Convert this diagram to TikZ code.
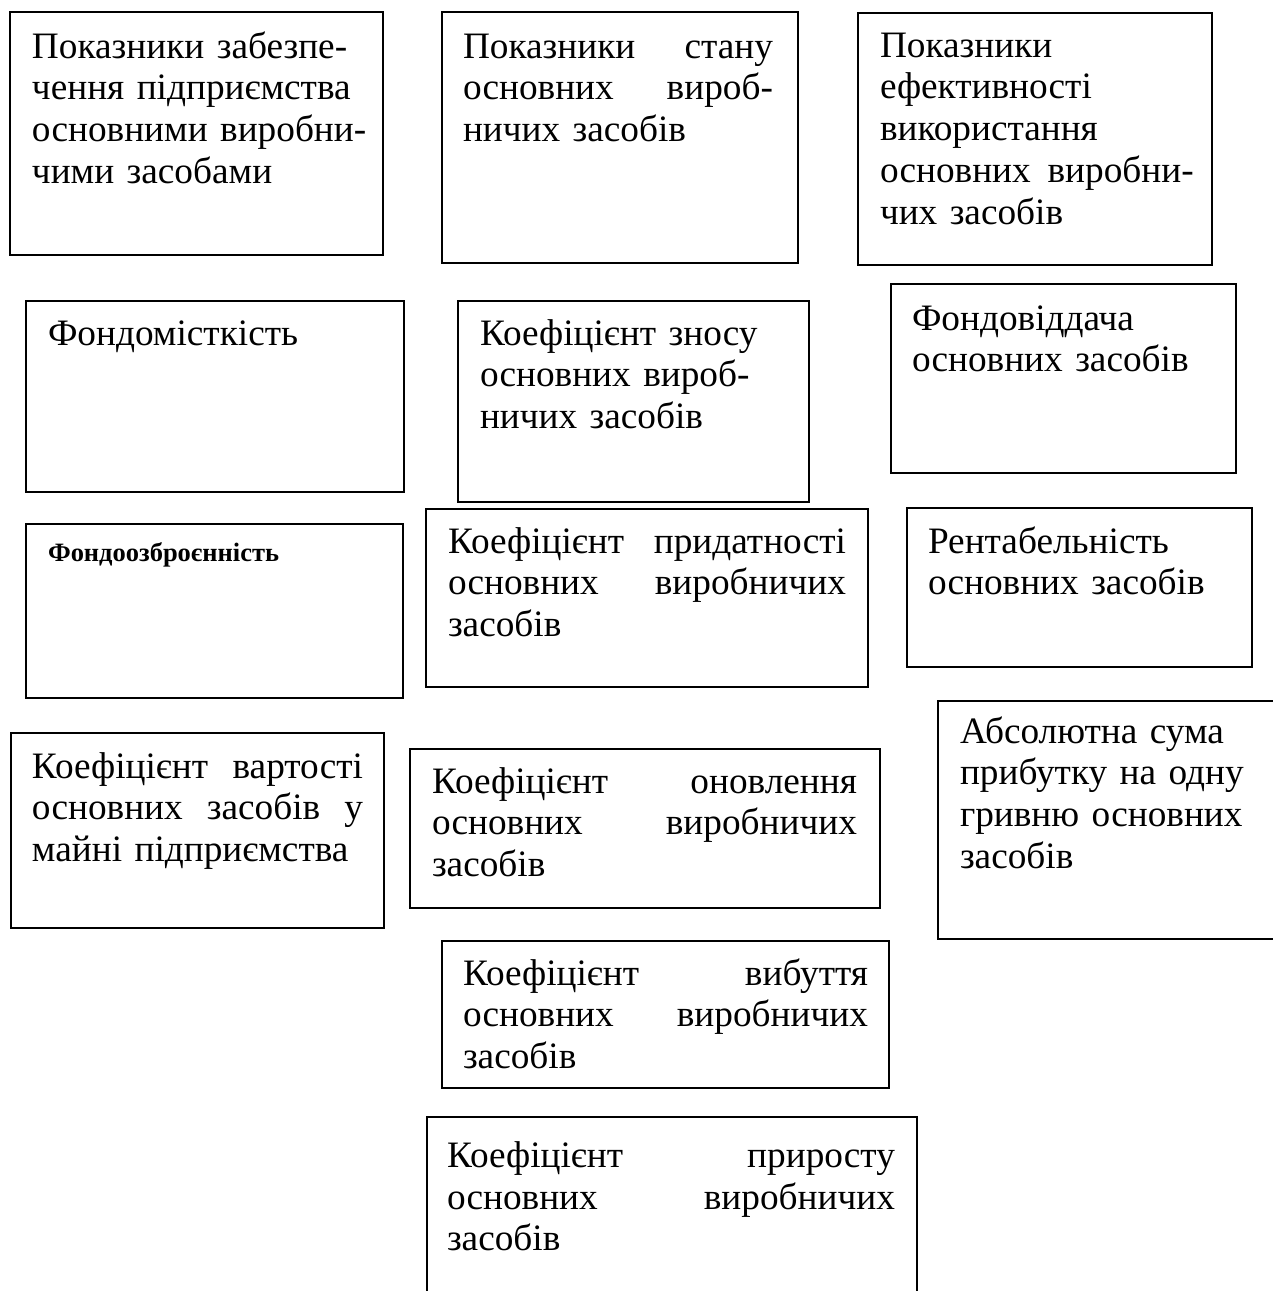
\documentclass[tikz,border=0pt]{standalone}
\usepackage{fontspec}
\setmainfont{Liberation Serif}
\begin{document}
\begin{tikzpicture}[x=0.3889pt,y=-0.3889pt,
  box/.style={draw=black,line width=0.65pt,rectangle,anchor=north west,inner sep=0pt,outer sep=0pt},
  txt/.style={anchor=north west,inner sep=0pt,outer sep=0pt,align=left,font=\fontsize{14.5}{16.33}\selectfont},
  btxt/.style={anchor=north west,inner sep=0pt,outer sep=0pt,align=left,font=\fontsize{10.3}{12}\selectfont\bfseries}]
\useasboundingbox (0,0) rectangle (1273,1291);
\clip (0,0) rectangle (1273,1291);
% boxes
\node[box,minimum width=145.06pt,minimum height=94.50pt] (b1) at (10,12) {};
\node[box,minimum width=138.45pt,minimum height=97.61pt] (b2) at (442,12) {};
\node[box,minimum width=137.67pt,minimum height=98.00pt] (b3) at (858,13) {};
\node[box,minimum width=147.00pt,minimum height=74.28pt] (b4) at (26,301) {};
\node[box,minimum width=136.50pt,minimum height=78.17pt] (b5) at (458,301) {};
\node[box,minimum width=134.17pt,minimum height=73.50pt] (b6) at (891,284) {};
\node[box,minimum width=146.62pt,minimum height=67.67pt] (b7) at (26,524) {};
\node[box,minimum width=171.89pt,minimum height=69.22pt] (b8) at (426,509) {};
\node[box,minimum width=134.17pt,minimum height=61.84pt] (b9) at (907,508) {};
\node[box,minimum width=145.06pt,minimum height=75.84pt] (b10) at (11,733) {};
\node[box,minimum width=182.78pt,minimum height=61.84pt] (b11) at (410,749) {};
\node[box,minimum width=140.78pt,minimum height=92.56pt] (b12) at (938,701) {};
\node[box,minimum width=173.84pt,minimum height=57.17pt] (b13) at (442,941) {};
\node[box,minimum width=190.56pt,minimum height=78.95pt] (b14) at (427,1117) {};
% texts
\node[txt,text width=132pt] (t1) at (32,28.6) {\strut Показники забезпе-\\чення підприємства\\основними виробни-\\чими засобами};
\node[txt,text width=120.56pt] (t2) at (463,28.6) {\strut Показники~\hfill стану\\основних~\hfill вироб-\\ничих засобів};
\node[txt,text width=128pt] (t3) at (880,27.6) {\strut Показники\\ефективності\\використання\\\mbox{основних\hspace{0.45em}виробни-}\\чих засобів};
\node[txt,text width=125pt] (t4) at (48,315.6) {\strut Фондомісткість};
\node[txt,text width=125pt] (t5) at (480,315.6) {\strut Коефіцієнт зносу\\основних вироб-\\ничих засобів};
\node[txt,text width=120pt] (t6) at (912,300.6) {\strut Фондовіддача\\основних засобів};
\node[btxt,text width=125pt] (t7) at (48,539.4) {\strut Фондоозброєнність};
\node[txt,text width=154.78pt] (t8) at (448,523.6) {\strut Коефіцієнт~\hfill придатності\\основних~\hfill виробничих\\засобів};
\node[txt,text width=120pt] (t9) at (928,523.6) {\strut Рентабельність\\основних засобів};
\node[txt,text width=128.72pt] (t10) at (32,748.6) {\strut Коефіцієнт~\hfill вартості\\основних~\hfill засобів~\hfill у\\майні підприємства};
\node[txt,text width=165.28pt] (t11) at (432,763.6) {\strut Коефіцієнт~\hfill оновлення\\основних~\hfill виробничих\\засобів};
\node[txt,text width=120pt] (t12) at (960,713.6) {\strut Абсолютна сума\\прибутку на одну\\гривню основних\\засобів};
\node[txt,text width=157.5pt] (t13) at (463,955.6) {\strut Коефіцієнт~\hfill вибуття\\основних~\hfill виробничих\\засобів};
\node[txt,text width=174.22pt] (t14) at (447,1137.6) {\strut Коефіцієнт~\hfill приросту\\основних~\hfill виробничих\\засобів};
\end{tikzpicture}
\end{document}
